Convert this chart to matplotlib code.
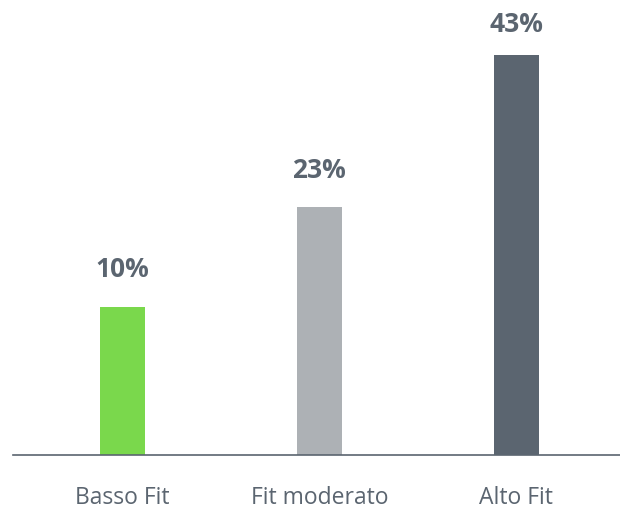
import numpy as np
import matplotlib.pyplot as plt

# fit categories and share of respondents (%)
categories = ["Basso Fit", "Fit moderato", "Alto Fit"]
shares = [10, 23, 43]
bar_colors = ["#7ad84c", "#adb1b5", "#5b6570"]

text_color = "#5b6570"
floor = -9.4      # value where the baseline sits
label_cap = 46.9  # keep the top label inside the frame

plt.rcParams['font.family'] = ['Open Sans', 'DejaVu Sans']

fig = plt.figure(figsize=(6.2, 5.07), dpi=100)
ax = fig.add_axes([0.021, 52 / 507, 0.979, 455 / 507])

x = np.arange(len(categories))
vals = np.array(shares, dtype=float)
ax.bar(x, vals - floor, bottom=floor, width=0.229, color=bar_colors)

for xi, v in zip(x, vals):
    ax.text(xi, min(v + 4.85, label_cap), f"{v:.0f}%", ha="center", va="center",
            fontsize=19, fontweight="bold", color=text_color)

ax.set_xlim(-0.556, 2.528)
ax.set_ylim(floor, floor + 455 / 7.64)

for side in ["top", "right", "left"]:
    ax.spines[side].set_visible(False)
ax.spines["bottom"].set_color(text_color)
ax.spines["bottom"].set_linewidth(1.2)

ax.set_yticks([])
ax.set_xticks(x)
ax.set_xticklabels(categories, fontsize=16.5, color=text_color)
ax.tick_params(axis="x", length=0, pad=22.5)

fig.savefig("out.png", dpi=100)
